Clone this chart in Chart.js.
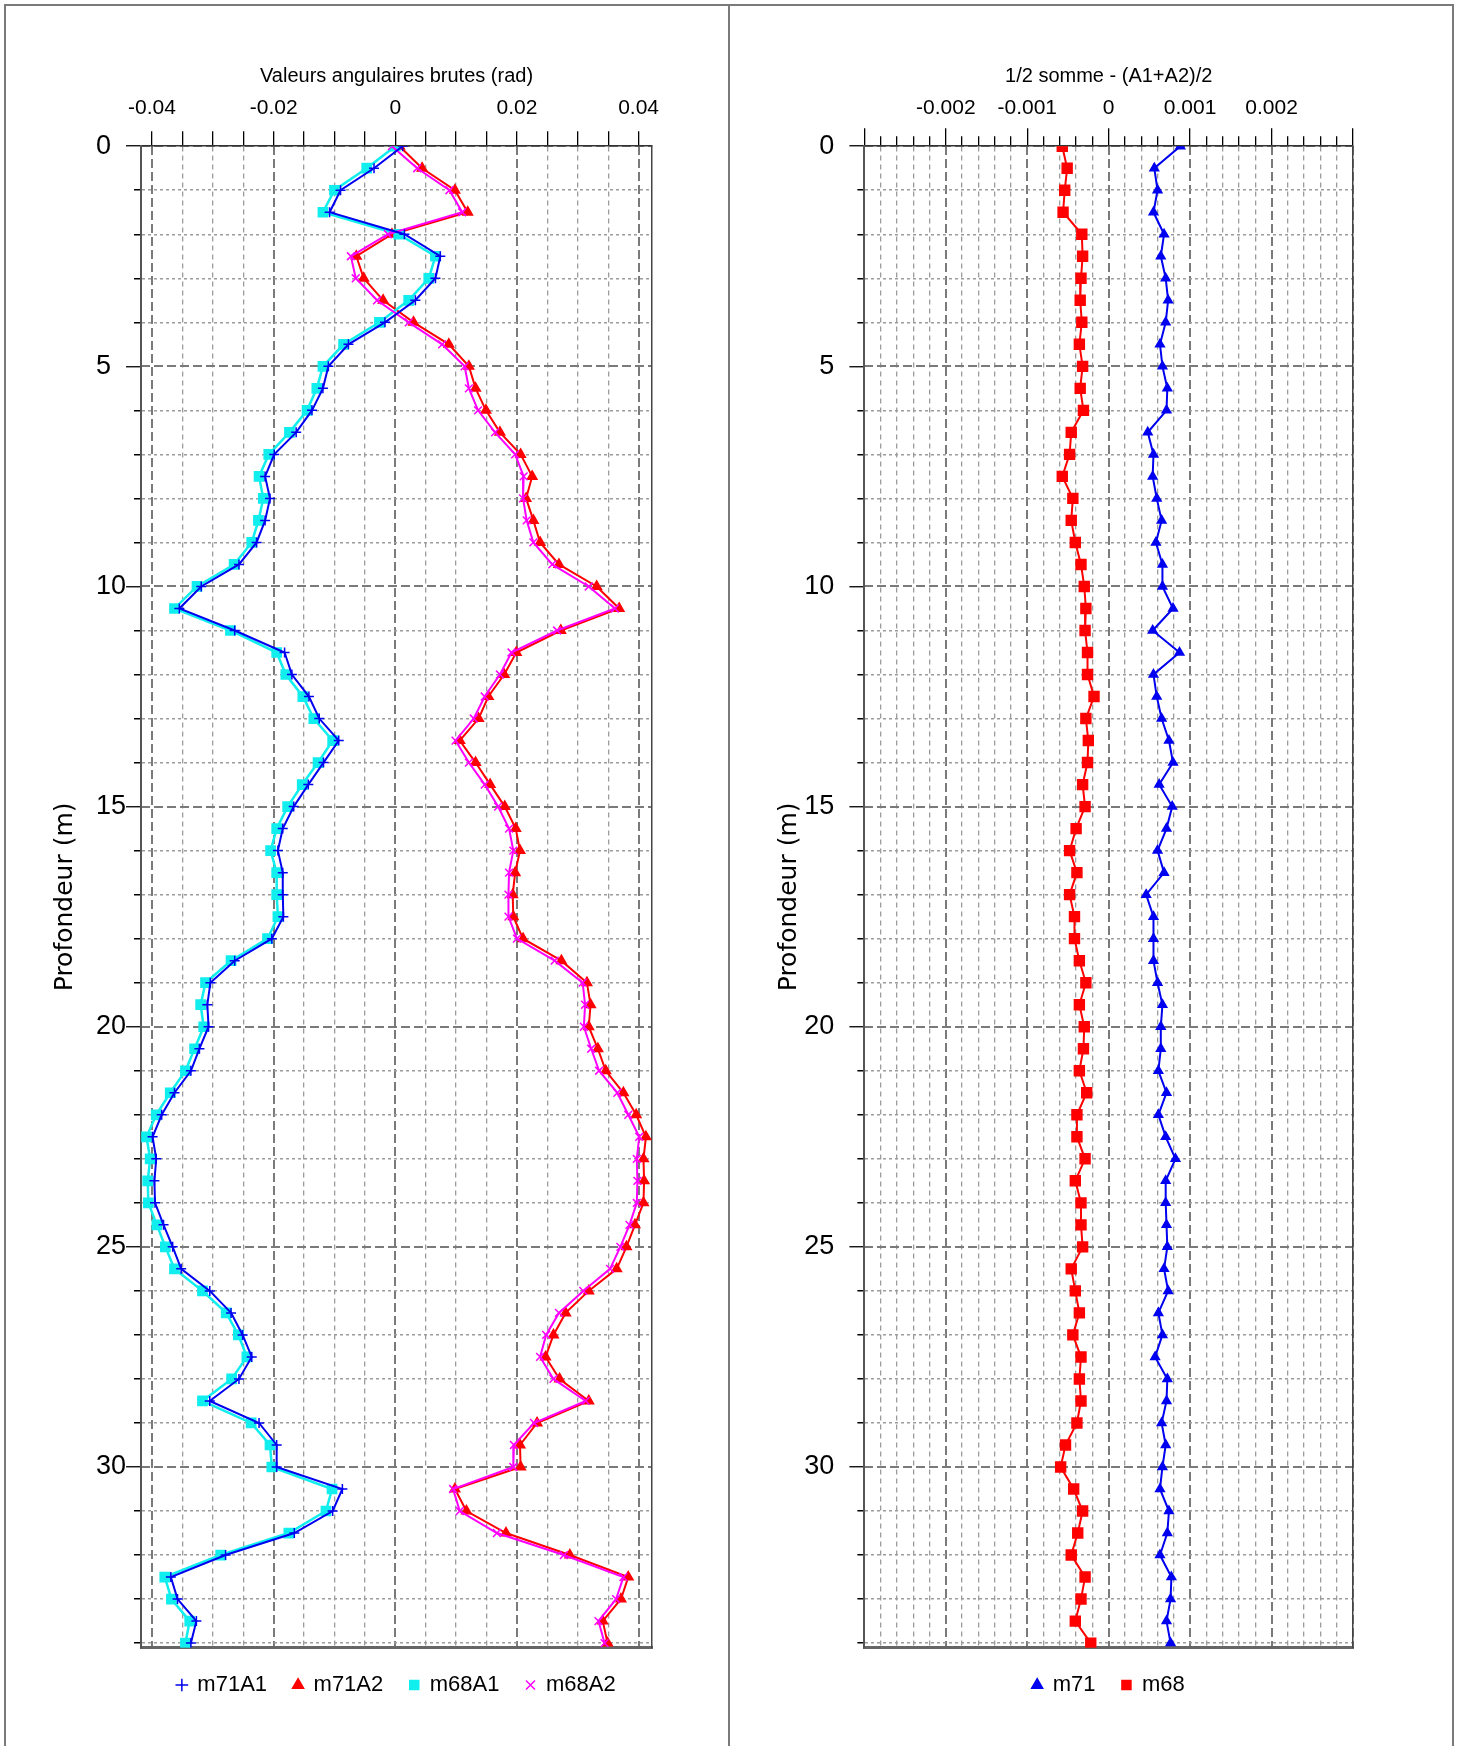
<!DOCTYPE html>
<html>
<head>
<meta charset="utf-8">
<script src="https://cdn.jsdelivr.net/npm/chart.js@4.4.0/dist/chart.umd.min.js"></script>
<style>
  html, body { margin: 0; padding: 0; background: #fff; }
  body { width: 1469px; height: 1746px; position: relative; overflow: hidden; }
  #frame { position: absolute; left: 4px; top: 4px; width: 1446px; height: 1800px; border: 2px solid #7a7a7a; }
  #divider { position: absolute; left: 728px; top: 4px; width: 2px; height: 1746px; background: #7a7a7a; }
  .panel { position: absolute; top: 8px; width: 718px; height: 1738px; }
  #leftPanel { left: 8px; }
  #rightPanel { left: 732px; }
</style>
</head>
<body>
<div id="frame"></div>
<div id="divider"></div>
<div class="panel" id="leftPanel"><canvas id="rawChart"></canvas></div>
<div class="panel" id="rightPanel"><canvas id="halfSumChart"></canvas></div>
<script>
// depth of each reading (m)
const depth = [0, 0.5, 1, 1.5, 2, 2.5, 3, 3.5, 4, 4.5,
  5, 5.5, 6, 6.5, 7, 7.5, 8, 8.5, 9, 9.5,
  10, 10.5, 11, 11.5, 12, 12.5, 13, 13.5, 14, 14.5,
  15, 15.5, 16, 16.5, 17, 17.5, 18, 18.5, 19, 19.5,
  20, 20.5, 21, 21.5, 22, 22.5, 23, 23.5, 24, 24.5,
  25, 25.5, 26, 26.5, 27, 27.5, 28, 28.5, 29, 29.5,
  30, 30.5, 31, 31.5, 32, 32.5, 33, 33.5, 34];

// raw angular values (rad)
const m71A1 = [0.0012, -0.0035, -0.0090, -0.0108, 0.0015, 0.0074, 0.0066, 0.0033, -0.0017, -0.0077,
  -0.0110, -0.0119, -0.0137, -0.0163, -0.0199, -0.0214, -0.0206, -0.0214, -0.0228, -0.0257,
  -0.0319, -0.0355, -0.0264, -0.0182, -0.0170, -0.0142, -0.0125, -0.0093, -0.0118, -0.0143,
  -0.0167, -0.0185, -0.0193, -0.0185, -0.0185, -0.0184, -0.0203, -0.0264, -0.0304, -0.0309,
  -0.0307, -0.0322, -0.0336, -0.0363, -0.0384, -0.0399, -0.0393, -0.0396, -0.0395, -0.0381,
  -0.0366, -0.0352, -0.0305, -0.0270, -0.0251, -0.0236, -0.0257, -0.0305, -0.0224, -0.0195,
  -0.0195, -0.0087, -0.0103, -0.0166, -0.0279, -0.0369, -0.0358, -0.0327, -0.0336];

const m71A2 = [0.0007, 0.0044, 0.0098, 0.0119, -0.00055, -0.0064, -0.0052, -0.0020, 0.0030, 0.0088,
  0.0121, 0.0132, 0.0149, 0.0172, 0.0206, 0.0225, 0.0215, 0.0227, 0.0238, 0.0269,
  0.0331, 0.0368, 0.0272, 0.0199, 0.0179, 0.0153, 0.0137, 0.0106, 0.0132, 0.0156,
  0.0180, 0.0198, 0.0205, 0.0197, 0.0193, 0.0194, 0.0210, 0.0273, 0.0315, 0.0321,
  0.0318, 0.0333, 0.0346, 0.0375, 0.0396, 0.0412, 0.0408, 0.0409, 0.0408, 0.0394,
  0.0380, 0.0364, 0.0318, 0.0280, 0.0260, 0.0247, 0.0270, 0.0318, 0.0233, 0.0205,
  0.0206, 0.0098, 0.0117, 0.0182, 0.0287, 0.0383, 0.0371, 0.0341, 0.0349];

const m68A1 = [0.0000, -0.0047, -0.0100, -0.0119, 0.00055, 0.0066, 0.0055, 0.0022, -0.0026, -0.0085,
  -0.0119, -0.0129, -0.0145, -0.0174, -0.0208, -0.0224, -0.0217, -0.0225, -0.0236, -0.0265,
  -0.0326, -0.0363, -0.0271, -0.0195, -0.0180, -0.0152, -0.0134, -0.0103, -0.0127, -0.0153,
  -0.0177, -0.0195, -0.0205, -0.0195, -0.0195, -0.0193, -0.0210, -0.0270, -0.0312, -0.0320,
  -0.0315, -0.0330, -0.0345, -0.0370, -0.0393, -0.0409, -0.0403, -0.0407, -0.0406, -0.0392,
  -0.0378, -0.0363, -0.0317, -0.0278, -0.0258, -0.0244, -0.0269, -0.0317, -0.0237, -0.0206,
  -0.0203, -0.0104, -0.0114, -0.0175, -0.0287, -0.0379, -0.0368, -0.0338, -0.0345];

const m68A2 = [-0.00055, 0.0036, 0.0089, 0.0110, -0.0012, -0.0073, -0.0065, -0.0030, 0.0022, 0.0077,
  0.0114, 0.0121, 0.0136, 0.0164, 0.0197, 0.0211, 0.0210, 0.0216, 0.0227, 0.0258,
  0.0318, 0.0361, 0.0266, 0.0191, 0.0172, 0.0147, 0.0129, 0.0099, 0.0121, 0.0147,
  0.0169, 0.0187, 0.0194, 0.0187, 0.0186, 0.0186, 0.0200, 0.0262, 0.0308, 0.0312,
  0.0310, 0.0322, 0.0335, 0.0365, 0.0383, 0.0401, 0.0397, 0.0398, 0.0397, 0.0385,
  0.0370, 0.0353, 0.0309, 0.0269, 0.0248, 0.0238, 0.0260, 0.0313, 0.0228, 0.0195,
  0.0194, 0.0095, 0.0106, 0.0167, 0.0277, 0.0375, 0.0363, 0.0334, 0.0344];

// half sums (A1+A2)/2
const m71 = [0.00088, 0.00056, 0.00060, 0.00055, 0.00068, 0.00064, 0.00070, 0.00073, 0.00070, 0.00063,
  0.00066, 0.00072, 0.00071, 0.00048, 0.00055, 0.00054, 0.00059, 0.00065, 0.00058, 0.00066,
  0.00066, 0.00079, 0.00054, 0.00087, 0.00055, 0.00059, 0.00065, 0.00074, 0.00079, 0.00062,
  0.00078, 0.00071, 0.00060, 0.00068, 0.00046, 0.00055, 0.00055, 0.00055, 0.00060, 0.00066,
  0.00064, 0.00064, 0.00061, 0.00071, 0.00061, 0.00070, 0.00082, 0.00070, 0.00070, 0.00071,
  0.00072, 0.00068, 0.00073, 0.00061, 0.00066, 0.00057, 0.00072, 0.00071, 0.00065, 0.00070,
  0.00066, 0.00063, 0.00074, 0.00072, 0.00063, 0.00077, 0.00076, 0.00071, 0.00076];

const m68 = [-0.00057, -0.00051, -0.00054, -0.00056, -0.00033, -0.00032, -0.00034, -0.00035, -0.00033, -0.00036,
  -0.00032, -0.00035, -0.00031, -0.00046, -0.00048, -0.00057, -0.00044, -0.00046, -0.00041, -0.00034,
  -0.00030, -0.00028, -0.00029, -0.00026, -0.00026, -0.00018, -0.00028, -0.00025, -0.00026, -0.00032,
  -0.00029, -0.00040, -0.00048, -0.00039, -0.00048, -0.00042, -0.00042, -0.00036, -0.00028, -0.00036,
  -0.00030, -0.00031, -0.00036, -0.00027, -0.00039, -0.00039, -0.00029, -0.00041, -0.00034, -0.00034,
  -0.00032, -0.00046, -0.00041, -0.00036, -0.00044, -0.00034, -0.00036, -0.00034, -0.00039, -0.00053,
  -0.00059, -0.00043, -0.00032, -0.00038, -0.00046, -0.00029, -0.00034, -0.00041, -0.00022];

const labelFont = '"Liberation Sans", Arial, sans-serif';
const titleFont = '"DejaVu Sans", Verdana, sans-serif';
const ink = '#000';
const minorGrid = '#9c9c9c';
const majorGrid = '#7a7a7a';
const clear = 'rgba(0,0,0,0)';

function isStep(v, step) {
  const r = v / step;
  return Math.abs(r - Math.round(r)) < 1e-6;
}

function points(values) {
  return depth.map((d, i) => ({ x: values[i], y: d }));
}

// all the axes of one panel: labelled axes plus grid-only axes for the major lines
function panelScales(o) {
  return {
    x: {
      type: 'linear', position: 'top', min: o.xMin, max: o.xMax,
      ticks: {
        stepSize: o.xStep, includeBounds: false, autoSkip: false, maxRotation: 0,
        padding: o.xPad, color: ink, font: { family: labelFont, size: 21 },
        callback: v => (isStep(v, o.xMajor) && Math.abs(v) < o.xLabelLimit) ? String(Number(v.toFixed(o.decimals))) : ''
      },
      grid: {
        color: c => isStep(c.tick.value, o.xMajor) ? clear : minorGrid,
        lineWidth: 1.3,
        tickLength: o.xTickLen, tickColor: ink, tickWidth: 1.3,
        tickBorderDash: c => (o.xMinorTick && !isStep(c.tick.value, o.xMajor)) ? [0, o.xTickLen - o.xMinorTick, o.xMinorTick, 100] : []
      },
      border: { display: true, color: '#333', width: 1.5, dash: [5, 4] },
      title: {
        display: true, text: o.title, color: ink,
        font: { family: labelFont, size: 20 }, padding: { top: 7, bottom: o.titleGap }
      }
    },
    xMajor: {
      type: 'linear', position: 'top', min: o.xMin, max: o.xMax, weight: -1,
      ticks: { display: false, stepSize: o.xMajor, includeBounds: false },
      grid: { color: majorGrid, lineWidth: 2, drawTicks: false },
      border: { display: false, dash: [9, 4] }
    },
    xB: {
      type: 'linear', position: 'bottom', min: o.xMin, max: o.xMax,
      ticks: { display: false },
      grid: { display: false, drawTicks: false },
      border: { display: true, color: '#666', width: 3 }
    },
    y: {
      type: 'linear', position: 'left', min: 0, max: 34.1, reverse: true,
      ticks: {
        stepSize: 1, includeBounds: false, autoSkip: false, padding: o.yPad,
        crossAlign: o.yAlign, color: ink, font: { family: labelFont, size: 27 },
        callback: v => v % 5 === 0 ? String(v) : ''
      },
      grid: {
        color: c => c.tick.value % 5 === 0 ? clear : minorGrid,
        lineWidth: 1.5,
        tickLength: 15, tickColor: ink, tickWidth: 1.3,
        tickBorderDash: c => c.tick.value % 5 === 0 ? [] : [0, 8, 7, 100]
      },
      border: { display: true, color: '#555', width: 2, dash: [3, 3] }
    },
    yMajor: {
      type: 'linear', position: 'left', min: 0, max: 34.1, reverse: true, weight: -1,
      ticks: { display: false, stepSize: 5, includeBounds: false },
      grid: { color: majorGrid, lineWidth: 2, drawTicks: false },
      border: { display: false, dash: [9, 4] }
    },
    yTitle: {
      type: 'linear', position: 'left', min: 0, max: 34.1, weight: 10,
      ticks: { display: false },
      grid: { display: false, drawTicks: false },
      border: { display: false },
      title: {
        display: true, text: 'Profondeur (m)', color: ink,
        font: { family: titleFont, size: 25 }, padding: { top: 0, bottom: o.yTitleGap }
      }
    },
    yR: {
      type: 'linear', position: 'right', min: 0, max: 34.1,
      ticks: { display: false },
      grid: { display: false, drawTicks: false },
      border: { display: true, color: '#444', width: 1.5 }
    }
  };
}

function panelOptions(scales, padRight) {
  return {
    responsive: true,
    maintainAspectRatio: false,
    animation: false,
    devicePixelRatio: 1,
    layout: { padding: { left: 42, right: padRight, top: 49, bottom: 40 } },
    scales: scales,
    plugins: {
      tooltip: { enabled: false },
      legend: {
        position: 'bottom',
        fullSize: false,
        labels: {
          usePointStyle: true, boxWidth: 9, boxHeight: 9, padding: 26.5,
          color: ink, font: { family: labelFont, size: 22 },
          sort: (a, b) => a.datasetIndex - b.datasetIndex
        }
      }
    }
  };
}

function series(label, values, color, style, radius, lineWidth, order) {
  return {
    label: label,
    data: points(values),
    showLine: true,
    borderColor: color,
    backgroundColor: color,
    borderWidth: lineWidth,
    pointStyle: style,
    pointRadius: radius,
    pointBorderWidth: 1.5,
    pointBackgroundColor: color,
    pointBorderColor: color,
    order: order
  };
}

new Chart(document.getElementById('rawChart'), {
  type: 'scatter',
  data: {
    datasets: [
      series('m71A1', m71A1, '#0000f0', 'cross', 5, 2, 1),
      series('m71A2', m71A2, '#ff0000', 'triangle', 5.5, 2, 4),
      series('m68A1', m68A1, '#10eeee', 'rect', 6.5, 2.5, 3),
      series('m68A2', m68A2, '#ff00ff', 'crossRot', 5.5, 2, 2)
    ]
  },
  options: panelOptions(panelScales({
    xMin: -0.0418, xMax: 0.0422, xStep: 0.005, xMajor: 0.02, xLabelLimit: 0.041,
    decimals: 2, xPad: 10, xTickLen: 15, xMinorTick: 0, titleGap: -2,
    yAlign: 'far', yPad: 0, yTitleGap: 16,
    title: 'Valeurs angulaires brutes (rad)'
  }), 74)
});

new Chart(document.getElementById('halfSumChart'), {
  type: 'scatter',
  data: {
    datasets: [
      series('m71', m71, '#0000f0', 'triangle', 5, 2, 1),
      series('m68', m68, '#ff0000', 'rect', 7, 2, 2)
    ]
  },
  options: panelOptions(panelScales({
    xMin: -0.003, xMax: 0.003, xStep: 0.0002, xMajor: 0.001, xLabelLimit: 0.0025,
    decimals: 3, xPad: 7, xTickLen: 18, xMinorTick: 10, titleGap: 1,
    yAlign: 'near', yPad: 15, yTitleGap: -12,
    title: '1/2 somme - (A1+A2)/2'
  }), 97)
});
</script>
</body>
</html>
